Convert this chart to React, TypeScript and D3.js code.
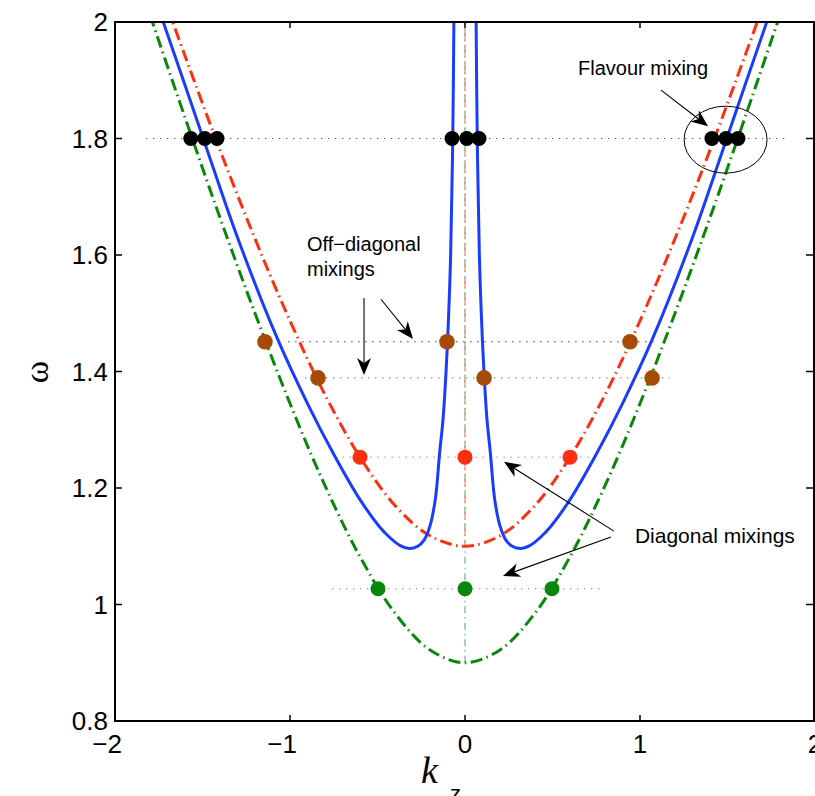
import React from "react";
import * as d3 from "d3";

// ---- Data ----
const xTicks = [-2, -1, 0, 1, 2];
const yTicks = [0.8, 1, 1.2, 1.4, 1.6, 1.8, 2];
const yTickLabels = ["0.8", "1", "1.2", "1.4", "1.6", "1.8", "2"];
const xTickLabels = ["\u22122", "\u22121", "0", "1", "2"];

// green dash-dot branch
const greenK = [-1.8, -1.6, -1.4, -1.2, -1.0, -0.8, -0.6, -0.4, -0.2, 0, 0.2, 0.4, 0.6, 0.8, 1.0, 1.2, 1.4, 1.6, 1.8];
const greenW = [2.012, 1.836, 1.664, 1.5, 1.345, 1.204, 1.082, 0.985, 0.922, 0.9, 0.922, 0.985, 1.082, 1.204, 1.345, 1.5, 1.664, 1.836, 2.012];

// red dash-dot branch
const redK = [-1.7, -1.6, -1.4, -1.2, -1.0, -0.8, -0.6, -0.4, -0.2, 0, 0.2, 0.4, 0.6, 0.8, 1.0, 1.2, 1.4, 1.6, 1.7];
const redW = [2.025, 1.942, 1.78, 1.628, 1.487, 1.36, 1.253, 1.17, 1.118, 1.1, 1.118, 1.17, 1.253, 1.36, 1.487, 1.628, 1.78, 1.942, 2.025];

// blue solid branches (right and left)
const blueRightK = [0.063, 0.07, 0.082, 0.1, 0.112, 0.125, 0.145, 0.17, 0.2, 0.235, 0.27, 0.32, 0.37, 0.43, 0.49, 0.6, 0.75, 0.9, 1.07, 1.3, 1.49, 1.73, 1.76];
const blueRightW = [2.02, 1.8, 1.6, 1.45, 1.38, 1.32, 1.26, 1.18, 1.135, 1.11, 1.1, 1.096, 1.101, 1.115, 1.134, 1.18, 1.258, 1.345, 1.455, 1.63, 1.795, 2.005, 2.03];
const blueLeftK = [-0.063, -0.07, -0.082, -0.1, -0.112, -0.125, -0.145, -0.17, -0.2, -0.235, -0.27, -0.32, -0.37, -0.43, -0.49, -0.6, -0.75, -0.9, -1.07, -1.3, -1.49, -1.73, -1.76];
const blueLeftW = [2.02, 1.8, 1.6, 1.45, 1.38, 1.32, 1.26, 1.18, 1.135, 1.11, 1.1, 1.096, 1.101, 1.115, 1.134, 1.18, 1.258, 1.345, 1.455, 1.63, 1.795, 2.005, 2.03];

// marker points
const blackDotK = [-1.567, -1.487, -1.417, -0.074, 0.01, 0.08, 1.411, 1.491, 1.56];
const blackDotW = 1.8;
const brownDotK = [-1.143, -0.103, 0.943, -0.84, 0.109, 1.069];
const brownDotW = [1.451, 1.451, 1.451, 1.389, 1.389, 1.389];
const redDotK = [-0.6, 0, 0.6];
const redDotW = 1.253;
const greenDotK = [-0.497, 0, 0.497];
const greenDotW = 1.027;

// horizontal dotted guide lines
const guideStart = [-1.823, -1.01, -0.914, -0.7, -0.76];
const guideEnd = [1.857, 1.1, 1.17, 0.77, 0.8];
const guideW = [1.8, 1.451, 1.389, 1.253, 1.027];
const guideColor = ["#555", "#222", "#666", "#ff5a3a", "#4aa37a"];

// ---- Layout ----
const W = 815;
const H = 796;
const left = 115, right = 815, top = 22, bottom = 721;

const x = d3.scaleLinear().domain([-2, 2]).range([left, right]);
const y = d3.scaleLinear().domain([0.8, 2]).range([bottom, top]);

const line = d3
  .line<[number, number]>()
  .x((d) => x(d[0]))
  .y((d) => y(d[1]))
  .curve(d3.curveCatmullRom.alpha(0.5));

const zip = (a: number[], b: number[]) => a.map((v, i) => [v, b[i]] as [number, number]);

const BLUE = "#1a3cff";
const RED = "#ff2f0f";
const GREEN = "#0a870a";
const BROWN = "#a64b07";

const SANS = "'Liberation Sans', Arial, Helvetica, sans-serif";
const SERIF = "'Liberation Serif', 'DejaVu Serif', serif";

function Arrow({ x1, y1, x2, y2 }: { x1: number; y1: number; x2: number; y2: number }) {
  const dx = x2 - x1, dy = y2 - y1;
  const len = Math.hypot(dx, dy);
  const ux = dx / len, uy = dy / len;
  const nx = -uy, ny = ux;
  const L = 17, Wd = 7, notch = 5;
  const bx = x2 - L * ux, by = y2 - L * uy;
  const mx = x2 - (L - notch) * ux, my = y2 - (L - notch) * uy;
  const head = `M${x2},${y2} L${bx + Wd * nx},${by + Wd * ny} L${mx},${my} L${bx - Wd * nx},${by - Wd * ny} Z`;
  return (
    <g>
      <line x1={x1} y1={y1} x2={mx} y2={my} stroke="#000" strokeWidth={1.1} />
      <path d={head} fill="#000" />
    </g>
  );
}

// annotation arrows in data coords: [k1, w1, k2, w2]
const arrows = [
  [1.12, 1.883, 1.389, 1.821],
  [-0.577, 1.526, -0.577, 1.394],
  [-0.48, 1.524, -0.297, 1.456],
  [0.851, 1.126, 0.223, 1.245],
  [0.834, 1.116, 0.217, 1.049],
];

export default function App() {
  const dashThick = "12,4.5,1.5,4.5";
  const dashThin = "7,4,1.5,4";
  return (
    <div style={{ position: "absolute", left: 0, top: 0 }}>
      <svg width={W} height={H} style={{ display: "block", background: "#fff" }}>
        <defs>
          <clipPath id="plot">
            <rect x={left} y={top} width={right - left} height={bottom - top} />
          </clipPath>
        </defs>

        <g clipPath="url(#plot)">
          {/* vertical thin k=0 lines */}
          <line x1={x(0)} x2={x(0)} y1={y(0.9)} y2={y(2)} stroke="#4aa37a" strokeWidth={1} strokeDasharray={dashThin} />
          <line x1={x(0)} x2={x(0)} y1={y(1.1)} y2={y(2)} stroke="#ff6a4a" strokeWidth={1} strokeDasharray={dashThin} strokeDashoffset={6} />

          {/* guide lines */}
          {guideW.map((w, i) => (
            <line
              key={"g" + i}
              x1={x(guideStart[i])}
              x2={x(guideEnd[i])}
              y1={y(w)}
              y2={y(w)}
              stroke={guideColor[i]}
              strokeWidth={1}
              strokeDasharray="1.3,5.7"
            />
          ))}

          <path d={line(zip(greenK, greenW)) || ""} fill="none" stroke={GREEN} strokeWidth={3} strokeDasharray={dashThick} />
          <path d={line(zip(redK, redW)) || ""} fill="none" stroke={RED} strokeWidth={3} strokeDasharray={dashThick} />
          <path d={line(zip(blueRightK, blueRightW)) || ""} fill="none" stroke={BLUE} strokeWidth={3} />
          <path d={line(zip(blueLeftK, blueLeftW)) || ""} fill="none" stroke={BLUE} strokeWidth={3} />

          {/* markers */}
          {greenDotK.map((k, i) => (
            <circle key={"gd" + i} cx={x(k)} cy={y(greenDotW)} r={7.5} fill={GREEN} />
          ))}
          {redDotK.map((k, i) => (
            <circle key={"rd" + i} cx={x(k)} cy={y(redDotW)} r={7.5} fill={RED} />
          ))}
          {brownDotK.map((k, i) => (
            <circle key={"bd" + i} cx={x(k)} cy={y(brownDotW[i])} r={7.8} fill={BROWN} />
          ))}
          {blackDotK.map((k, i) => (
            <circle key={"kd" + i} cx={x(k)} cy={y(blackDotW)} r={7.5} fill="#000" />
          ))}
        </g>

        {/* axes box */}
        <rect x={left} y={top} width={right - left - 1} height={bottom - top} fill="none" stroke="#000" strokeWidth={2} />
        {xTicks.map((t, i) => (
          <g key={"xt" + i}>
            <line x1={x(t)} x2={x(t)} y1={bottom} y2={bottom - 6} stroke="#000" strokeWidth={1.5} />
            <line x1={x(t)} x2={x(t)} y1={top} y2={top + 6} stroke="#000" strokeWidth={1.5} />
            <text
              x={t < 0 ? x(t) + 7 : x(t)}
              y={753}
              textAnchor={t < 0 ? "end" : "middle"}
              fontFamily={SANS}
              fontSize={26}
            >
              {xTickLabels[i]}
            </text>
          </g>
        ))}
        {yTicks.map((t, i) => (
          <g key={"yt" + i}>
            <line x1={left} x2={left + 7} y1={y(t)} y2={y(t)} stroke="#000" strokeWidth={1.5} />
            <line x1={right - 2} x2={right - 9} y1={y(t)} y2={y(t)} stroke="#000" strokeWidth={1.5} />
            <text x={108} y={y(t) + 9} textAnchor="end" fontFamily={SANS} fontSize={26}>
              {yTickLabels[i]}
            </text>
          </g>
        ))}

        {/* axis labels */}
        <text transform="translate(48,372) rotate(-90)" textAnchor="middle" fontFamily={SERIF} fontSize={34}>
          ω
        </text>
        <text x={421} y={783} fontFamily={SERIF} fontStyle="italic" fontSize={38}>
          k
        </text>
        <text x={450} y={801} fontFamily={SANS} fontSize={22}>
          z
        </text>

        {/* annotations */}
        <ellipse cx={x(1.489)} cy={y(1.798)} rx={41.5} ry={33.5} fill="none" stroke="#000" strokeWidth={1} />
        {arrows.map((a, i) => (
          <Arrow key={"a" + i} x1={x(a[0])} y1={y(a[1])} x2={x(a[2])} y2={y(a[3])} />
        ))}
        <text x={x(0.646)} y={y(1.909)} fontFamily={SANS} fontSize={20}>
          Flavour mixing
        </text>
        <text x={x(-0.903)} y={y(1.607)} fontFamily={SANS} fontSize={20}>
          Off{"\u2212"}diagonal
        </text>
        <text x={x(-0.903)} y={y(1.564)} fontFamily={SANS} fontSize={20}>
          mixings
        </text>
        <text x={x(0.971)} y={y(1.106)} fontFamily={SANS} fontSize={21}>
          Diagonal mixings
        </text>
      </svg>
    </div>
  );
}
